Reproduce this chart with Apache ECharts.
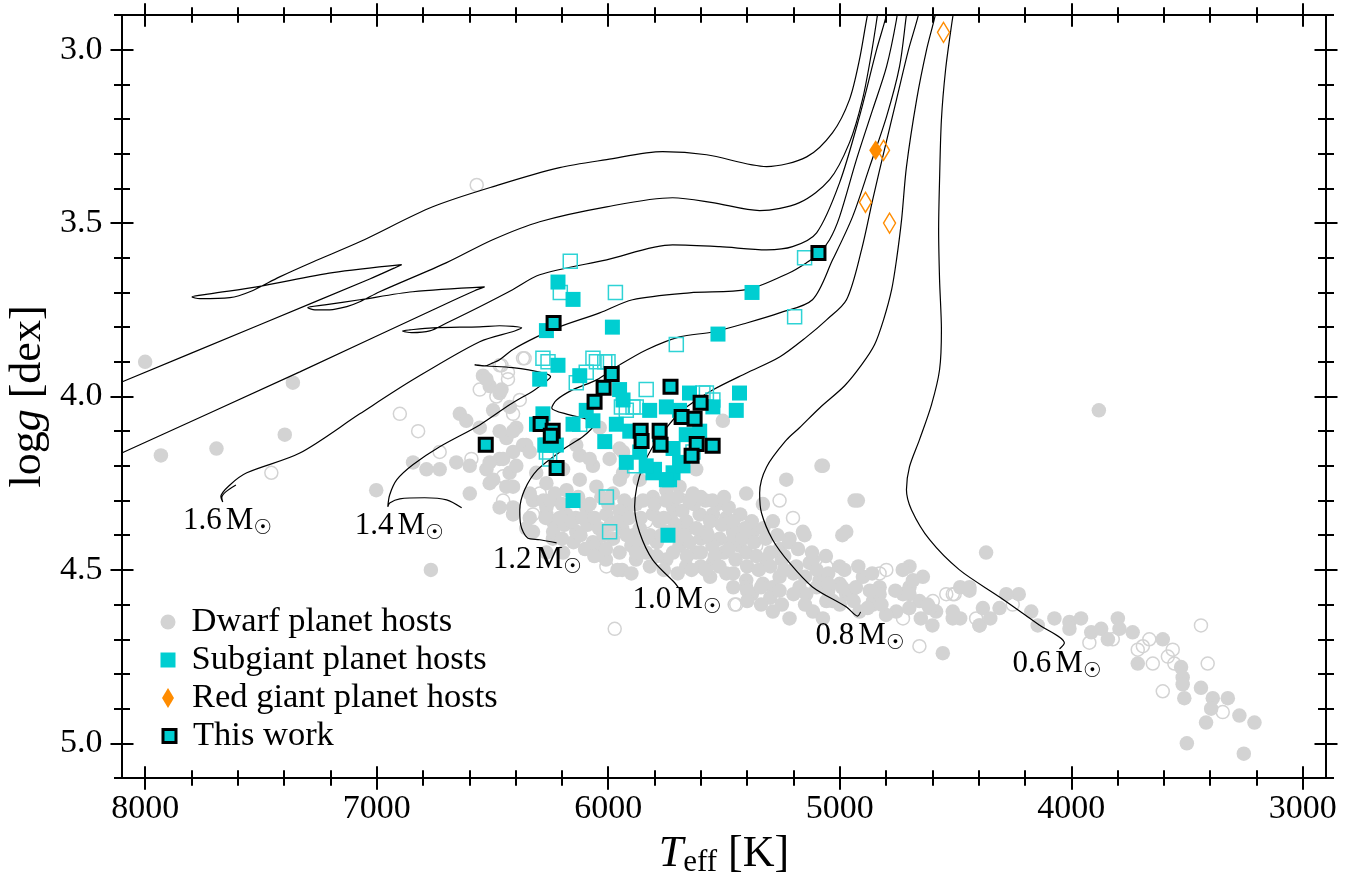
<!DOCTYPE html>
<html><head><meta charset="utf-8">
<script src="https://cdn.jsdelivr.net/npm/echarts@6/dist/echarts.min.js"></script>
<style>html,body{margin:0;padding:0;background:#fff}#chart{width:1354px;height:877px}</style>
</head><body><div id="chart"></div>
<script>
// ---------- axis ranges and tick labels ----------
const xLimits = [2900, 8100];
const yLimits = [2.9, 5.1];
const xTickLabels = ['8000', '7000', '6000', '5000', '4000', '3000'];
const yTickLabels = ['3.0', '3.5', '4.0', '4.5', '5.0'];
const xMinorStep = 200;

// ---------- evolutionary tracks [Teff, logg] ----------
const trackUnlabeledA = [[8196,3.984],[8101,3.958],[7505,3.793],[7030,3.661],[6922,3.629],[6892,3.620],[7190,3.643],[7518,3.684],[7721,3.704],[7798,3.713],[7764,3.718],[7634,3.715],[7548,3.698],[7419,3.655],[7276,3.612],[7073,3.554],[6758,3.453],[6469,3.389],[6210,3.340],[6007,3.317],[5765,3.294],[5575,3.303],[5316,3.337],[5143,3.309],[5031,3.239],[4958,3.144],[4915,3.029],[4880,2.899],[4858,2.841]];
const trackUnlabeledB = [[8196,4.191],[8101,4.163],[7332,3.929],[6728,3.741],[6577,3.695],[6534,3.684],[6844,3.698],[7073,3.721],[7224,3.736],[7298,3.744],[7267,3.750],[7203,3.750],[7129,3.741],[7073,3.727],[6987,3.698],[6698,3.614],[6499,3.548],[6296,3.496],[6007,3.453],[5722,3.427],[5549,3.441],[5346,3.464],[5174,3.441],[5044,3.375],[4958,3.268],[4902,3.144],[4863,3.009],[4837,2.899],[4828,2.856]];
const track16 = [[7608,4.255],[7652,4.275],[7669,4.292],[7665,4.304],[7673,4.289],[7634,4.255],[7561,4.220],[7332,4.163],[7073,4.050],[6844,3.952],[6555,3.842],[6404,3.811],[6374,3.802],[6469,3.796],[6555,3.799],[6758,3.802],[6857,3.808],[6888,3.811],[6849,3.816],[6771,3.811],[6698,3.788],[6555,3.741],[6413,3.692],[6296,3.649],[6007,3.606],[5722,3.563],[5519,3.568],[5316,3.577],[5204,3.568],[5100,3.528],[5001,3.384],[4915,3.193],[4841,3.000],[4798,2.899],[4789,2.856]];
const track14 = [[6633,4.321],[6698,4.298],[6793,4.292],[6900,4.295],[6944,4.307],[6952,4.318],[6944,4.284],[6913,4.240],[6844,4.197],[6728,4.145],[6555,4.082],[6426,4.024],[6318,3.981],[6266,3.955],[6249,3.943],[6283,3.932],[6413,3.917],[6525,3.912],[6577,3.909],[6534,3.912],[6499,3.903],[6469,3.894],[6413,3.865],[6309,3.828],[6210,3.799],[6037,3.759],[5895,3.721],[5649,3.701],[5402,3.692],[5217,3.643],[5143,3.614],[5092,3.589],[5044,3.548],[5001,3.482],[4928,3.317],[4858,3.173],[4798,3.049],[4755,2.913],[4746,2.856]];
const track12 = [[6223,4.422],[6296,4.413],[6348,4.408],[6378,4.370],[6382,4.327],[6361,4.269],[6305,4.211],[6197,4.154],[6110,4.116],[6076,4.096],[6067,4.087],[6089,4.067],[6167,4.053],[6244,4.033],[6223,4.010],[6154,3.981],[6050,3.952],[5951,3.909],[5834,3.865],[5692,3.828],[5549,3.814],[5402,3.788],[5260,3.759],[5118,3.721],[5031,3.606],[4945,3.482],[4871,3.338],[4798,3.193],[4742,3.049],[4712,2.899],[4703,2.856]];
const track10 = [[5696,4.552],[5713,4.537],[5808,4.471],[5864,4.393],[5886,4.318],[5877,4.261],[5851,4.203],[5808,4.145],[5748,4.090],[5692,4.047],[5636,4.018],[5549,3.981],[5402,3.932],[5260,3.886],[5143,3.828],[5057,3.779],[4971,3.721],[4906,3.577],[4858,3.433],[4807,3.288],[4755,3.144],[4703,3.000],[4660,2.899],[4651,2.856]];
const track08 = [[4910,4.621],[4923,4.633],[4971,4.607],[5118,4.549],[5217,4.480],[5290,4.413],[5338,4.336],[5346,4.278],[5316,4.203],[5230,4.125],[5174,4.090],[5087,4.033],[4979,3.969],[4906,3.909],[4850,3.851],[4811,3.779],[4776,3.692],[4755,3.606],[4733,3.490],[4712,3.338],[4668,3.144],[4625,3.000],[4587,2.899],[4578,2.856]];
const track06 = [[4051,4.728],[4030,4.711],[4138,4.659],[4310,4.578],[4483,4.500],[4612,4.413],[4690,4.327],[4712,4.269],[4699,4.203],[4656,4.125],[4604,4.024],[4569,3.923],[4561,3.808],[4569,3.663],[4573,3.519],[4569,3.375],[4561,3.202],[4543,3.058],[4517,2.928],[4500,2.856]];

// mass labels: [text, Teff (left edge), logg (middle)]
const massLabels = [['1.6',7837,4.359],['1.4',7095,4.373],['1.2',6499,4.471],['1.0',5895,4.587],['0.8',5105,4.690],['0.6',4254,4.771]];

// ---------- planet hosts [Teff, logg] ----------
const dwarfFilled = [[8000,3.90],[7932,4.17],[7692,4.15],[7362,3.96],[7397,4.11],[7002,4.27],[6766,4.50],[3881,4.04],
[6541,3.94],[6469,3.99],[6512,3.97],[6641,4.05],[6613,4.07],[6555,4.09],[6843,4.19],[6785,4.21],[6728,4.21],[6656,4.19],[6598,4.20],[6526,4.21],[6469,4.18],[6411,4.16],[6354,4.14],[6426,4.22],[6512,4.25],[6598,4.28],[6397,4.09],[6440,4.12],[6267,4.25],[6411,4.32],[6325,4.30],[6267,4.34],[6354,4.38],[6239,4.41],[6411,4.26],[6311,4.22],
[6526,3.95],[6461,3.98],[6497,4.04],[6425,4.03],[6411,4.10],[6469,4.10],[6368,4.14],[6339,4.16],[6512,4.19],[6454,4.18],[6397,4.20],[6497,4.24],[6440,4.26],[6339,4.28],[6195,4.21],[6123,4.17],[6066,4.20],[5994,4.18],[5936,4.16],[6123,4.24],[6051,4.26],[5950,4.24],[6267,4.32],[6181,4.34],[6095,4.32],[6008,4.34],[5922,4.33],[6339,4.35],[6411,4.34],[6469,4.32],[6325,4.39],[6238,4.39],[6138,4.39],[6066,4.42],[5979,4.41],[5951,4.45],[6195,4.45],[6267,4.45],
[5864,4.24],[5807,4.29],[5749,4.27],[5692,4.26],[5634,4.28],[5720,4.32],[5807,4.34],[5864,4.38],[5836,4.45],[5749,4.39],[5663,4.36],[5605,4.34],[5548,4.34],[5490,4.35],[5505,4.07],[5576,4.39],[5519,4.41],[5461,4.39],[5404,4.28],[5332,4.31],[5289,4.36],[5375,4.39],[5433,4.43],[5692,4.43],[5620,4.45],[5749,4.47],[5663,4.49],[5548,4.48],[5490,4.51],[5404,4.45],[5318,4.47],[5260,4.44],[5217,4.41],[5231,4.24],[5159,4.39],[5073,4.20],[4972,4.39],[4922,4.30],[5116,4.47],[5188,4.49],[5260,4.52],[5332,4.54],[5404,4.53],[5174,4.55],[5087,4.53],[5001,4.49],[4900,4.52],[4828,4.55],[4972,4.57],[5058,4.59],[5217,4.64],[5289,4.62],[5116,4.62],[4857,4.60],[4756,4.62],[4699,4.49],[4641,4.52],[4699,4.55],[4584,4.62],[4512,4.64],[4440,4.56],[4656,4.59],
[5073,4.64],[4555,4.74],[4440,4.55],[4512,4.62],[4397,4.66],[4310,4.61],[4699,4.57],[4612,4.61],[4857,4.59],[4958,4.57],[4915,4.62],[5030,4.59],[5145,4.57],[5289,4.55],[5404,4.55],
[4227,4.57],[4173,4.62],[4145,4.66],[4073,4.64],[4008,4.65],[3958,4.64],[4008,4.67],[3914,4.68],[3871,4.67],[3842,4.70],[3799,4.64],[3792,4.67],[3735,4.68],[3605,4.70],[3713,4.77],[3526,4.78],[3519,4.81],[3519,4.83],[3512,4.87],[3440,4.84],[3389,4.87],[3324,4.87],[3396,4.90],[3274,4.92],[3209,4.94],[3418,4.94],[3501,5.00],[3255,5.03],[4396,4.66],[4382,4.61],
[5079,4.20],[4936,4.30],[5152,4.40],[4989,4.40],[4368,4.45],[4281,4.57],[4480,4.55],[4728,4.50],[4684,4.53],[5130,4.48],[4828,4.57],[4727,4.57],
[6037,4.09],[6138,4.14],[6080,4.18],[5951,4.15],[5936,4.22],[5620,4.21],
[6010,4.47],[5940,4.50],[5880,4.47],[5600,4.49],[5560,4.52],[5460,4.55],[5380,4.57],[5300,4.58],[5200,4.57],[5150,4.60],[4800,4.63],[4650,4.64],
[6280,4.30],[6230,4.28],[6180,4.27],[6130,4.29],[6080,4.31],[6030,4.29],[5980,4.28],[5930,4.30],[5880,4.31],[6240,4.36],[6190,4.37],[6140,4.35],[6090,4.37],[6040,4.38],[5990,4.37],[5940,4.38],[5890,4.40],[5840,4.41],[5790,4.42],[6150,4.42],[6100,4.44],[6050,4.43],[5900,4.43],[5780,4.36],[5730,4.35],[5680,4.33],[5630,4.31],[5580,4.30],[5530,4.31],[5480,4.32],[5430,4.34],[5380,4.36],[5330,4.38],[5700,4.40],[5650,4.42],[5600,4.41],[5550,4.43],[5500,4.45],[5450,4.47],[5400,4.49],[5350,4.50],[5300,4.49],[5250,4.47],[5200,4.51],[5150,4.52],[5100,4.55],[5050,4.56],[5000,4.54],[4950,4.56],
[6250,4.30],[6200,4.31],[6150,4.30],[6000,4.31],[5950,4.33],[5850,4.30],[5800,4.31],[5750,4.30],[5700,4.29],[5650,4.30],[5600,4.29],[5550,4.30],[5500,4.29],
[6270,4.35],[6210,4.35],[6160,4.36],[6110,4.35],[6060,4.35],[5960,4.36],[5910,4.35],[5860,4.35],[5760,4.35],[5710,4.37],[5660,4.38],[5560,4.36],[5510,4.37],[5460,4.36],[5410,4.38],
[6200,4.41],[6120,4.40],[6020,4.40],[5920,4.40],[5870,4.42],[5820,4.40],[5770,4.40],[5720,4.39],[5670,4.40],[5620,4.38],[5570,4.40],[5470,4.42],[5420,4.41],[5370,4.42],[5320,4.41],[5270,4.40],[5220,4.42],
[6060,4.46],[6010,4.44],[5880,4.45],[5790,4.46],[5720,4.45],[5660,4.46],[5600,4.45],[5540,4.46],[5480,4.44],[5360,4.46],[5300,4.45],[5240,4.46],[5180,4.44],[5120,4.45],[5060,4.46],
[5960,4.50],[5900,4.51],[5820,4.49],[5760,4.50],[5700,4.51],[5640,4.50],[5580,4.50],[5520,4.49],[5460,4.51],[5240,4.50],[5100,4.50],[5050,4.51],[4980,4.50],[4920,4.49],[4860,4.51],
[5400,4.56],[5340,4.55],[5260,4.56],[5050,4.54],[4990,4.55],[4930,4.55],[4870,4.56],[4760,4.56],
[5400,4.59],[5340,4.60],[5250,4.60],[5000,4.60],[4940,4.59],[4880,4.61],[4820,4.60],[4700,4.61],[4620,4.60],
[4600,4.66],[4480,4.64],[4350,4.64]];
const dwarfOpen = [[7455,4.22],[6900,4.05],[6821,4.10],[6568,3.39],[6555,3.98],[6433,3.93],[6361,3.89],[6469,3.91],[6382,4.01],[6411,4.05],[6728,4.16],[6591,4.18],[6454,4.23],[6454,4.30],[6296,4.28],
[6368,3.89],[6461,3.91],[6433,3.95],[6483,4.00],[6325,4.34],[6008,4.49],[5972,4.67],[5836,4.36],[5677,4.30],[5361,4.43],[5202,4.35],[5260,4.30],[4828,4.51],[4799,4.50],[4512,4.57],[5447,4.60],[5058,4.49],
[5454,4.60],[4727,4.64],[4656,4.72],[4598,4.59],[4504,4.57],[4411,4.64],
[4253,4.60],[3922,4.71],[3821,4.70],[3663,4.70],[3713,4.73],[3691,4.72],[3648,4.77],[3583,4.75],[3562,4.73],[3555,4.77],[3440,4.66],[3411,4.77],[3605,4.85],[3346,4.91],
[4540,4.57]];
const subgiantFilled = [[6217,3.67],[6152,3.72],[5982,3.80],[5379,3.70],[5526,3.82],[6267,3.81],[6217,3.91],[6123,3.94],[5951,3.98],[5936,4.01],[6095,4.04],[5821,4.04],[5749,4.03],[5692,4.04],[5649,3.99],[5548,4.03],[5433,3.99],[5447,4.04],[5965,4.08],[6015,4.13],[6267,4.14],[5663,4.11],[5720,4.15],[5864,4.16],[5800,4.21],[5735,4.24],[6152,4.08],[6282,4.05],[5922,4.19],[5692,4.19],[6066,4.07],[5907,4.10],[5778,4.11],[5605,4.10],[6152,4.30],[5742,4.40],[5807,4.22],[5720,4.22],[5749,4.24],[6296,3.95],[6310,4.08],[6274,4.14],[6224,4.14],[5836,4.20],[5677,4.20]];
const subgiantOpen = [[6164,3.61],[6207,3.70],[5969,3.70],[5152,3.60],[5195,3.77],[5706,3.85],[6282,3.89],[6260,3.90],[6051,3.90],[6001,3.90],[5836,3.98],[5943,4.03],[5893,4.03],[5591,3.99],[6066,3.89],[6015,3.90],[5879,4.03],[5922,4.04],[5886,4.20],[6008,4.29],[5994,4.39],[5576,3.99],[5548,4.01],[6095,3.93],[5634,4.16],[6123,4.08],[6138,3.96],[6267,4.16],[6253,4.18]];
const redGiantFilled = [[4845,3.29]];
const redGiantOpen = [[4811,3.29],[4889,3.44],[4785,3.50],[4552,2.95]];
const thisWork = [[5092,3.586],[6236,3.788],[5985,3.935],[6020,3.975],[6059,4.015],[5731,3.972],[5601,4.018],[5683,4.059],[5627,4.064],[5860,4.099],[5778,4.099],[5856,4.128],[5774,4.139],[5618,4.137],[5549,4.142],[5640,4.171],[6292,4.079],[6240,4.099],[6248,4.113],[6223,4.206],[6529,4.139]];

// ---------- build ----------
const SERIF = 'Liberation Serif';
const xCats = [];
for (let v = xLimits[1]; v >= xLimits[0]; v -= 100) xCats.push(String(v));
const yCats = [];
for (let i = 0; Math.round((yLimits[0] + i * 0.1) * 10) <= Math.round(yLimits[1] * 10); i++) yCats.push((yLimits[0] + i * 0.1).toFixed(1));
const isXMajor = (i, v) => xTickLabels.includes(String(v));
const isXMinor = (i, v) => Number(v) % xMinorStep === 0;
const isYMajor = (i, v) => yTickLabels.includes(String(v));
const isYMinor = () => true;

function tickAxis(dim, position, filter, len, showLabels) {
  return {
    type: 'category', data: dim === 'x' ? xCats : yCats, boundaryGap: false, position: position,
    offset: -len / 2, inverse: dim === 'y',
    axisLine: {show: false},
    axisTick: {show: true, inside: false, length: len, interval: filter, lineStyle: {color: '#000', width: 2}},
    axisLabel: {show: !!showLabels, interval: filter, color: '#000', fontSize: 34, fontFamily: SERIF,
      margin: dim === 'x' ? 26 : 31},
    splitLine: {show: false}, axisPointer: {show: false}, silent: true
  };
}

const lineStyle = {color: '#000', width: 1.2};
function trackSeries(data) {
  return {type: 'line', data: data, xAxisIndex: 0, yAxisIndex: 0, showSymbol: false, symbol: 'none',
    smooth: 0.3, lineStyle: lineStyle, silent: true, z: 2, clip: true};
}

const CYAN = '#00CED1', GRAY = '#D3D3D3', ORANGE = '#FF8C00';
const legendText = {fontSize: 34.5, fontFamily: SERIF, color: '#000', lineHeight: 36};

const option = {
  animation: false,
  backgroundColor: '#fff',
  grid: {left: 122, top: 15, right: 28, bottom: 99, show: true, borderColor: '#000', borderWidth: 2, backgroundColor: 'transparent', containLabel: false, outerBoundsMode: 'none'},
  xAxis: [
    {type: 'value', min: xLimits[0], max: xLimits[1], inverse: true, position: 'bottom',
      axisLine: {show: false}, axisTick: {show: false}, axisLabel: {show: false}, splitLine: {show: false},
      name: '{i|T}{s|eff}{n| [K]}', nameLocation: 'middle', nameGap: 52,
      nameTextStyle: {rich: {
        i: {fontSize: 44, fontFamily: SERIF, fontStyle: 'italic', color: '#000', lineHeight: 48},
        s: {fontSize: 31, fontFamily: SERIF, color: '#000', lineHeight: 31, verticalAlign: 'bottom'},
        n: {fontSize: 44, fontFamily: SERIF, color: '#000', lineHeight: 48}}}},
    tickAxis('x', 'bottom', isXMajor, 23.5, true),
    tickAxis('x', 'bottom', isXMinor, 15.5, false),
    tickAxis('x', 'top', isXMajor, 23.5, false),
    tickAxis('x', 'top', isXMinor, 15.5, false)
  ],
  yAxis: [
    {type: 'value', min: yLimits[0], max: yLimits[1], inverse: true, position: 'left',
      axisLine: {show: false}, axisTick: {show: false}, axisLabel: {show: false}, splitLine: {show: false},
      name: '{n|log}{i|g}{n| [dex]}', nameLocation: 'middle', nameRotate: 90, nameGap: 70,
      nameTextStyle: {rich: {
        i: {fontSize: 44, fontFamily: SERIF, fontStyle: 'italic', color: '#000', lineHeight: 48},
        n: {fontSize: 44, fontFamily: SERIF, color: '#000', lineHeight: 48}}}},
    tickAxis('y', 'left', isYMajor, 23, true),
    tickAxis('y', 'left', isYMinor, 16, false),
    tickAxis('y', 'right', isYMajor, 23, false),
    tickAxis('y', 'right', isYMinor, 16, false)
  ],
  legend: [
    {data: [{name: 'Dwarf planet hosts', icon: 'circle', itemStyle: {color: GRAY, borderWidth: 0, opacity: 1}}],
      left: 160.5, top: 604, itemWidth: 15, itemHeight: 15, padding: 0, selectedMode: false,
      textStyle: Object.assign({padding: [0, 0, 0, 11]}, legendText)},
    {data: [{name: 'Subgiant planet hosts', icon: 'rect', itemStyle: {color: CYAN, borderWidth: 0, opacity: 1}}],
      left: 160.5, top: 642, itemWidth: 15, itemHeight: 15, padding: 0, selectedMode: false,
      textStyle: Object.assign({padding: [0, 0, 0, 11]}, legendText)},
    {data: [{name: 'Red giant planet hosts', icon: 'diamond', itemStyle: {color: ORANGE, borderWidth: 0, opacity: 1}}],
      left: 162, top: 680, itemWidth: 12, itemHeight: 20, padding: 0, selectedMode: false,
      textStyle: Object.assign({padding: [0, 0, 0, 13]}, legendText)},
    {data: [{name: 'This work', icon: 'rect', itemStyle: {color: CYAN, borderColor: '#000', borderWidth: 3, opacity: 1}}],
      left: 161.5, top: 718, itemWidth: 13, itemHeight: 13, padding: 0, selectedMode: false,
      textStyle: Object.assign({padding: [0, 0, 0, 12]}, legendText)}
  ],
  series: [
    {name: 'Dwarf open', type: 'scatter', data: dwarfOpen, symbol: 'circle', symbolSize: 13, z: 1, silent: true,
      itemStyle: {color: 'rgba(255,255,255,0)', borderColor: GRAY, borderWidth: 1.5, opacity: 1}},
    {name: 'Dwarf planet hosts', type: 'scatter', data: dwarfFilled, symbol: 'circle', symbolSize: 14.5, z: 1, silent: true,
      itemStyle: {color: GRAY, opacity: 1}},
    trackSeries(trackUnlabeledA), trackSeries(trackUnlabeledB), trackSeries(track16), trackSeries(track14),
    trackSeries(track12), trackSeries(track10), trackSeries(track08), trackSeries(track06),
    {name: 'Subgiant open', type: 'scatter', data: subgiantOpen, symbol: 'rect', symbolSize: 14, z: 3, silent: true,
      itemStyle: {color: 'rgba(255,255,255,0)', borderColor: '#2ed3d5', borderWidth: 1.5, opacity: 1}},
    {name: 'Subgiant planet hosts', type: 'scatter', data: subgiantFilled, symbol: 'rect', symbolSize: 15, z: 3, silent: true,
      itemStyle: {color: CYAN, opacity: 1}},
    {name: 'This work', type: 'scatter', data: thisWork, symbol: 'rect', symbolSize: 13, z: 4, silent: true,
      itemStyle: {color: CYAN, borderColor: '#000', borderWidth: 3, opacity: 1}},
    {name: 'Red giant open', type: 'scatter', data: redGiantOpen, symbol: 'diamond', symbolSize: [12, 20], z: 4, silent: true,
      itemStyle: {color: 'rgba(255,255,255,0)', borderColor: ORANGE, borderWidth: 1.5, opacity: 1}},
    {name: 'Red giant planet hosts', type: 'scatter', data: redGiantFilled, symbol: 'diamond', symbolSize: [13, 20], z: 4, silent: true,
      itemStyle: {color: ORANGE, opacity: 1}},
    {name: 'mass labels', type: 'scatter', symbolSize: 0, z: 5, silent: true, clip: false,
      itemStyle: {opacity: 1},
      data: massLabels.map(d => ({name: d[0], value: [d[1], d[2]]})),
      label: {show: true, opacity: 1, position: [0, 0], align: 'left', verticalAlign: 'middle',
        formatter: p => '{n|' + p.name + '}{m|M}{s|\u2609}',
        rich: {
          n: {fontSize: 31, fontFamily: SERIF, color: '#000', lineHeight: 36},
          m: {fontSize: 31, fontFamily: SERIF, color: '#000', lineHeight: 36, padding: [0, 0, 0, 4]},
          s: {fontSize: 21, fontFamily: 'DejaVu Sans', color: '#000', lineHeight: 20, verticalAlign: 'bottom'}}}}
  ]
};
const chart = echarts.init(document.getElementById('chart'), null, {renderer: 'canvas'});
chart.setOption(option);
</script></body></html>
